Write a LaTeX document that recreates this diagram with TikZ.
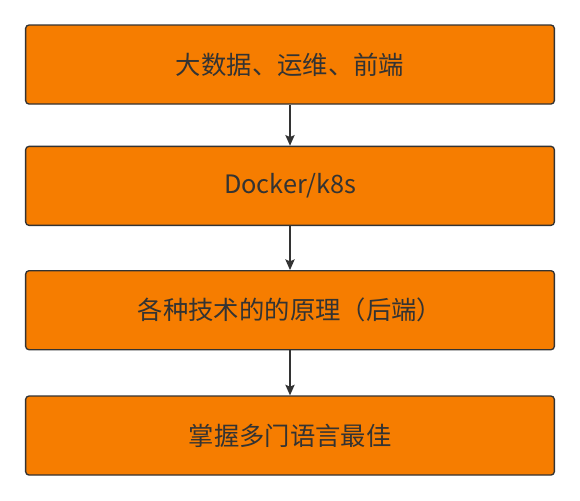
\documentclass[tikz,border=0pt]{standalone}
\usepackage{fontspec}
\setmainfont{Noto Sans CJK SC}
\usetikzlibrary{positioning, arrows.meta}
\definecolor{boxOrange}{RGB}{246,125,0}
\definecolor{lineGray}{RGB}{51,51,51}
\tikzstyle{arrow} = [line width=1pt, draw=lineGray, ->, >={Stealth[length=8pt,width=7pt,inset=1.5pt]}]
\tikzstyle{tBox} = [rectangle, rounded corners=2.5pt, draw=lineGray, line width=1pt, fill=boxOrange, text=lineGray, align=center, minimum width=396.5pt, minimum height=59.25pt, font=\fontsize{19pt}{22pt}\selectfont, text centered]

\begin{document}
\begin{tikzpicture}
        \useasboundingbox (-217.5pt,48.4pt) rectangle (217.5pt,-326.6pt);
        \node[tBox] (Fields) {大数据、运维、前端};
        \node[tBox] (Docker) [below =30.75pt of Fields] {Docker/k8s} edge [arrow, <-] (Fields);
        \node[tBox] (Theory) [below =33pt of Docker] {各种技术的的原理（后端）} edge [arrow, <-] (Docker);
        \node[tBox] (Langs) [below =33.75pt of Theory] {掌握多门语言最佳} edge [arrow, <-] (Theory);
    \end{tikzpicture}
\end{document}
